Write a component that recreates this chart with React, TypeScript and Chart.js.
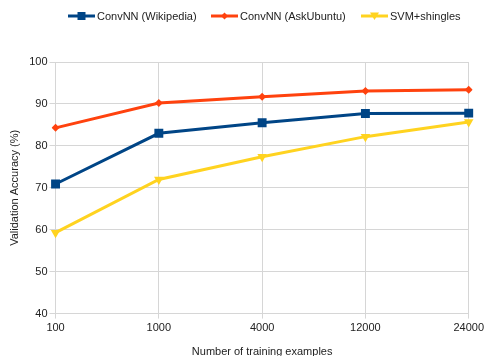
import React, { useEffect, useRef } from "react";
import { Chart, registerables } from "chart.js";

Chart.register(...registerables);

const categories = ["100", "1000", "4000", "12000", "24000"];
const wikipedia = [70.9, 83.0, 85.5, 87.7, 87.8];
const askUbuntu = [84.3, 90.2, 91.7, 93.1, 93.4];
const svmShingles = [59.3, 72.0, 77.4, 82.2, 85.7];
const seriesNames = ["ConvNN (Wikipedia)", "ConvNN (AskUbuntu)", "SVM+shingles"];
const yTicks = { min: 40, max: 100, step: 10 };

const COLORS = ["#004586", "#ff420e", "#ffd320"];
const MARKERS = ["square", "diamond", "triangle"];
const FONT = "'Liberation Sans', Arial, sans-serif";

const legendLayout = { xs: [68, 211, 361], y: 16, lineW: 27, gap: 2 };

const legendPlugin = {
  id: "topLegend",
  afterDraw(chart: any) {
    const ctx = chart.ctx as CanvasRenderingContext2D;
    ctx.save();
    chart.data.datasets.forEach((d: any, i: number) => {
      const x = legendLayout.xs[i];
      const y = legendLayout.y;
      const color = COLORS[i];
      ctx.strokeStyle = color;
      ctx.fillStyle = color;
      ctx.lineWidth = 3;
      ctx.beginPath();
      ctx.moveTo(x, y);
      ctx.lineTo(x + legendLayout.lineW, y);
      ctx.stroke();
      const cx = x + legendLayout.lineW / 2;
      ctx.beginPath();
      if (MARKERS[i] === "square") {
        ctx.rect(cx - 4, y - 4, 8, 8);
      } else if (MARKERS[i] === "diamond") {
        ctx.moveTo(cx, y - 3.5);
        ctx.lineTo(cx + 3.5, y);
        ctx.lineTo(cx, y + 3.5);
        ctx.lineTo(cx - 3.5, y);
        ctx.closePath();
      } else {
        ctx.moveTo(cx - 4.5, y - 3.5);
        ctx.lineTo(cx + 4.5, y - 3.5);
        ctx.lineTo(cx, y + 4);
        ctx.closePath();
      }
      ctx.fill();
      ctx.fillStyle = "#222";
      ctx.font = `11px ${FONT}`;
      ctx.textBaseline = "middle";
      ctx.textAlign = "left";
      ctx.fillText(d.label, x + legendLayout.lineW + legendLayout.gap, y + 0.5);
    });
    ctx.restore();
  },
};

export default function App() {
  const ref = useRef<HTMLCanvasElement>(null);
  useEffect(() => {
    if (!ref.current) return;
    const chart = new Chart(ref.current, {
      type: "line",
      data: {
        labels: categories,
        datasets: [
          {
            label: seriesNames[0],
            data: wikipedia,
            borderColor: COLORS[0],
            backgroundColor: COLORS[0],
            borderWidth: 3,
            pointStyle: "rect",
            pointRadius: 6.3,
            pointBorderWidth: 0,
          },
          {
            label: seriesNames[1],
            data: askUbuntu,
            borderColor: COLORS[1],
            backgroundColor: COLORS[1],
            borderWidth: 3,
            pointStyle: "rectRot",
            pointRadius: 4,
            pointBorderWidth: 0,
          },
          {
            label: seriesNames[2],
            data: svmShingles,
            borderColor: COLORS[2],
            backgroundColor: COLORS[2],
            borderWidth: 3,
            pointStyle: "triangle",
            pointRotation: 180,
            pointRadius: 5.5,
            pointBorderWidth: 0,
          },
        ],
      },
      plugins: [legendPlugin],
      options: {
        animation: false,
        responsive: false,
        maintainAspectRatio: false,
        layout: { padding: { left: 8, right: 0, top: 62, bottom: -3 } },
        plugins: {
          tooltip: { enabled: false },
          legend: { display: false },
        },
        scales: {
          x: {
            offset: false,
            grid: { color: "#d6d6d6", tickLength: 5, lineWidth: 1 },
            border: { color: "#d6d6d6" },
            ticks: { color: "#222", font: { family: FONT, size: 11 }, padding: 3, maxRotation: 0 },
            title: {
              display: true,
              text: "Number of training examples",
              color: "#222",
              font: { family: FONT, size: 11 },
              padding: { top: 8, bottom: 0 },
            },
          },
          y: {
            min: yTicks.min,
            max: yTicks.max,
            grid: { color: "#d6d6d6", tickLength: 6, lineWidth: 1 },
            border: { color: "#d6d6d6" },
            ticks: { stepSize: yTicks.step, color: "#222", font: { family: FONT, size: 11 }, padding: 2 },
            title: {
              display: true,
              text: "Validation Accuracy (%)",
              color: "#222",
              font: { family: FONT, size: 11 },
              padding: { top: 0, bottom: 6 },
            },
          },
        },
      },
    } as any);
    return () => chart.destroy();
  }, []);
  return (
    <div style={{ position: "absolute", left: 0, top: 0, width: 487, height: 356, background: "#fff" }}>
      <canvas ref={ref} width={487} height={356} style={{ display: "block", width: 487, height: 356 }} />
    </div>
  );
}
